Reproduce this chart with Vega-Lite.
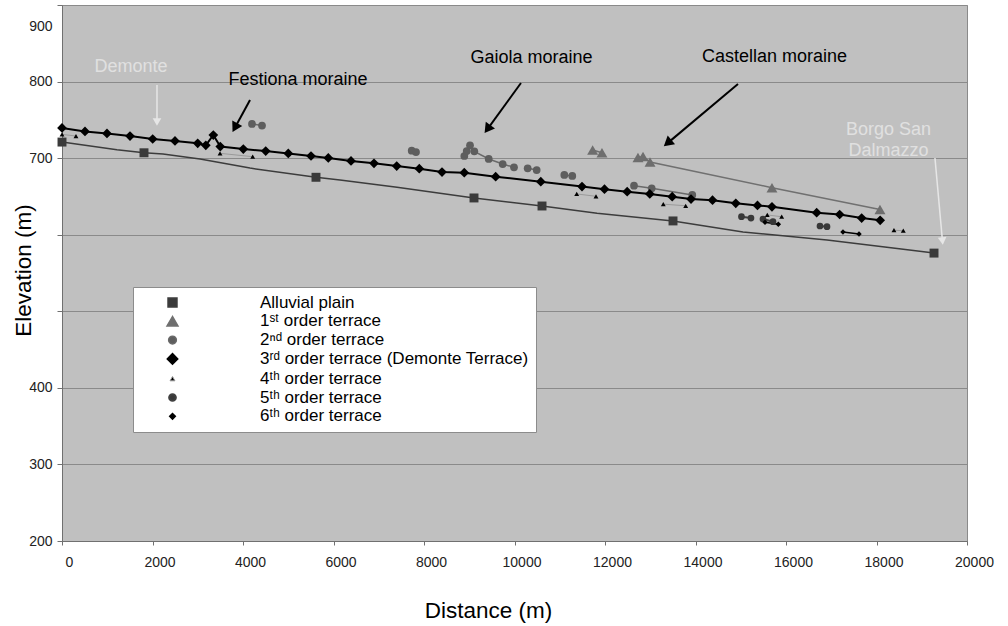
{
  "$schema": "https://vega.github.io/schema/vega-lite/v6.json",
  "width": 905,
  "height": 536,
  "autosize": "none",
  "padding": {"left": 62, "top": 5, "right": 41, "bottom": 85},
  "background": "#ffffff",
  "config": {
    "font": "Liberation Sans",
    "view": {"fill": "#c0c0c0", "stroke": "#8a8a8a", "strokeWidth": 1},
    "axis": {"labelFont": "Liberation Sans", "titleFont": "Liberation Sans", "labelColor": "#222222", "titleColor": "#000000", "titleFontWeight": "normal"}
  },
  "datasets": {
    "profile": [
      {"series": "Alluvial plain", "distance": 0, "elevation": 721},
      {"series": "Alluvial plain", "distance": 1215, "elevation": 711},
      {"series": "Alluvial plain", "distance": 1812, "elevation": 707},
      {"series": "Alluvial plain", "distance": 2232, "elevation": 705.5},
      {"series": "Alluvial plain", "distance": 3050, "elevation": 699},
      {"series": "Alluvial plain", "distance": 4155, "elevation": 687},
      {"series": "Alluvial plain", "distance": 5613, "elevation": 675},
      {"series": "Alluvial plain", "distance": 6144, "elevation": 671.5},
      {"series": "Alluvial plain", "distance": 7404, "elevation": 662},
      {"series": "Alluvial plain", "distance": 9105, "elevation": 648},
      {"series": "Alluvial plain", "distance": 10608, "elevation": 637.5},
      {"series": "Alluvial plain", "distance": 11824, "elevation": 628},
      {"series": "Alluvial plain", "distance": 13503, "elevation": 618},
      {"series": "Alluvial plain", "distance": 15050, "elevation": 603.5},
      {"series": "Alluvial plain", "distance": 16907, "elevation": 593},
      {"series": "Alluvial plain", "distance": 18365, "elevation": 582.5},
      {"series": "Alluvial plain", "distance": 19271, "elevation": 576}
    ],
    "terraces": [
      {"series": "Alluvial plain", "segment": "a", "distance": 0, "elevation": 721},
      {"series": "Alluvial plain", "segment": "a", "distance": 1812, "elevation": 707},
      {"series": "Alluvial plain", "segment": "a", "distance": 5613, "elevation": 675},
      {"series": "Alluvial plain", "segment": "a", "distance": 9105, "elevation": 648},
      {"series": "Alluvial plain", "segment": "a", "distance": 10608, "elevation": 637.5},
      {"series": "Alluvial plain", "segment": "a", "distance": 13503, "elevation": 618},
      {"series": "Alluvial plain", "segment": "a", "distance": 19271, "elevation": 576},

      {"series": "1ˢᵗ order terrace", "segment": "a", "distance": 11727, "elevation": 710.6},
      {"series": "1ˢᵗ order terrace", "segment": "a", "distance": 11933, "elevation": 707.1},
      {"series": "1ˢᵗ order terrace", "segment": "b", "distance": 12729, "elevation": 700.8},
      {"series": "1ˢᵗ order terrace", "segment": "b", "distance": 12840, "elevation": 702.1},
      {"series": "1ˢᵗ order terrace", "segment": "b", "distance": 12995, "elevation": 695},
      {"series": "1ˢᵗ order terrace", "segment": "b", "distance": 15690, "elevation": 661.4},
      {"series": "1ˢᵗ order terrace", "segment": "b", "distance": 18077, "elevation": 633},

      {"series": "2ⁿᵈ order terrace", "segment": "a", "distance": 4199, "elevation": 744.6},
      {"series": "2ⁿᵈ order terrace", "segment": "a", "distance": 4420, "elevation": 742.6},
      {"series": "2ⁿᵈ order terrace", "segment": "b", "distance": 7728, "elevation": 709.7},
      {"series": "2ⁿᵈ order terrace", "segment": "b", "distance": 7823, "elevation": 708},
      {"series": "2ⁿᵈ order terrace", "segment": "c", "distance": 8891, "elevation": 702.8},
      {"series": "2ⁿᵈ order terrace", "segment": "c", "distance": 8944, "elevation": 709.3},
      {"series": "2ⁿᵈ order terrace", "segment": "c", "distance": 9017, "elevation": 716.8},
      {"series": "2ⁿᵈ order terrace", "segment": "c", "distance": 9112, "elevation": 708.9},
      {"series": "2ⁿᵈ order terrace", "segment": "c", "distance": 9430, "elevation": 698.9},
      {"series": "2ⁿᵈ order terrace", "segment": "c", "distance": 9739, "elevation": 692.3},
      {"series": "2ⁿᵈ order terrace", "segment": "c", "distance": 9989, "elevation": 688},
      {"series": "2ⁿᵈ order terrace", "segment": "d", "distance": 10291, "elevation": 686.7},
      {"series": "2ⁿᵈ order terrace", "segment": "d", "distance": 10490, "elevation": 684.5},
      {"series": "2ⁿᵈ order terrace", "segment": "e", "distance": 11101, "elevation": 678},
      {"series": "2ⁿᵈ order terrace", "segment": "e", "distance": 11277, "elevation": 676.7},
      {"series": "2ⁿᵈ order terrace", "segment": "f", "distance": 12641, "elevation": 664},
      {"series": "2ⁿᵈ order terrace", "segment": "f", "distance": 13032, "elevation": 660.6},
      {"series": "2ⁿᵈ order terrace", "segment": "f", "distance": 13929, "elevation": 651.9},

      {"series": "3ʳᵈ order terrace (Demonte Terrace)", "segment": "a", "distance": 0, "elevation": 739.4},
      {"series": "3ʳᵈ order terrace (Demonte Terrace)", "segment": "a", "distance": 508, "elevation": 734.8},
      {"series": "3ʳᵈ order terrace (Demonte Terrace)", "segment": "a", "distance": 994, "elevation": 732.2},
      {"series": "3ʳᵈ order terrace (Demonte Terrace)", "segment": "a", "distance": 1503, "elevation": 728.9},
      {"series": "3ʳᵈ order terrace (Demonte Terrace)", "segment": "a", "distance": 2004, "elevation": 725},
      {"series": "3ʳᵈ order terrace (Demonte Terrace)", "segment": "a", "distance": 2497, "elevation": 722.4},
      {"series": "3ʳᵈ order terrace (Demonte Terrace)", "segment": "a", "distance": 2999, "elevation": 719.4},
      {"series": "3ʳᵈ order terrace (Demonte Terrace)", "segment": "a", "distance": 3178, "elevation": 716.8},
      {"series": "3ʳᵈ order terrace (Demonte Terrace)", "segment": "a", "distance": 3344, "elevation": 730.2},
      {"series": "3ʳᵈ order terrace (Demonte Terrace)", "segment": "a", "distance": 3498, "elevation": 715.2},
      {"series": "3ʳᵈ order terrace (Demonte Terrace)", "segment": "a", "distance": 4007, "elevation": 711.9},
      {"series": "3ʳᵈ order terrace (Demonte Terrace)", "segment": "a", "distance": 4502, "elevation": 709.3},
      {"series": "3ʳᵈ order terrace (Demonte Terrace)", "segment": "a", "distance": 5001, "elevation": 706.1},
      {"series": "3ʳᵈ order terrace (Demonte Terrace)", "segment": "a", "distance": 5503, "elevation": 702.8},
      {"series": "3ʳᵈ order terrace (Demonte Terrace)", "segment": "a", "distance": 5885, "elevation": 700.2},
      {"series": "3ʳᵈ order terrace (Demonte Terrace)", "segment": "a", "distance": 6387, "elevation": 696.3},
      {"series": "3ʳᵈ order terrace (Demonte Terrace)", "segment": "a", "distance": 6895, "elevation": 693.3},
      {"series": "3ʳᵈ order terrace (Demonte Terrace)", "segment": "a", "distance": 7397, "elevation": 689.7},
      {"series": "3ʳᵈ order terrace (Demonte Terrace)", "segment": "a", "distance": 7896, "elevation": 686.2},
      {"series": "3ʳᵈ order terrace (Demonte Terrace)", "segment": "a", "distance": 8398, "elevation": 681.9},
      {"series": "3ʳᵈ order terrace (Demonte Terrace)", "segment": "a", "distance": 8890, "elevation": 681},
      {"series": "3ʳᵈ order terrace (Demonte Terrace)", "segment": "a", "distance": 9584, "elevation": 675.8},
      {"series": "3ʳᵈ order terrace (Demonte Terrace)", "segment": "a", "distance": 10581, "elevation": 669.2},
      {"series": "3ʳᵈ order terrace (Demonte Terrace)", "segment": "a", "distance": 11492, "elevation": 662.9},
      {"series": "3ʳᵈ order terrace (Demonte Terrace)", "segment": "a", "distance": 11989, "elevation": 659.4},
      {"series": "3ʳᵈ order terrace (Demonte Terrace)", "segment": "a", "distance": 12490, "elevation": 656.2},
      {"series": "3ʳᵈ order terrace (Demonte Terrace)", "segment": "a", "distance": 12990, "elevation": 653.2},
      {"series": "3ʳᵈ order terrace (Demonte Terrace)", "segment": "a", "distance": 13485, "elevation": 649.6},
      {"series": "3ʳᵈ order terrace (Demonte Terrace)", "segment": "a", "distance": 13901, "elevation": 646.6},
      {"series": "3ʳᵈ order terrace (Demonte Terrace)", "segment": "a", "distance": 14376, "elevation": 645.1},
      {"series": "3ʳᵈ order terrace (Demonte Terrace)", "segment": "a", "distance": 14890, "elevation": 641},
      {"series": "3ʳᵈ order terrace (Demonte Terrace)", "segment": "a", "distance": 15370, "elevation": 638.2},
      {"series": "3ʳᵈ order terrace (Demonte Terrace)", "segment": "a", "distance": 15690, "elevation": 636.5},
      {"series": "3ʳᵈ order terrace (Demonte Terrace)", "segment": "a", "distance": 16678, "elevation": 628.8},
      {"series": "3ʳᵈ order terrace (Demonte Terrace)", "segment": "a", "distance": 17186, "elevation": 626.4},
      {"series": "3ʳᵈ order terrace (Demonte Terrace)", "segment": "a", "distance": 17672, "elevation": 621.8},
      {"series": "3ʳᵈ order terrace (Demonte Terrace)", "segment": "a", "distance": 18081, "elevation": 618.8},

      {"series": "4ᵗʰ order terrace", "segment": "a", "distance": 0, "elevation": 731},
      {"series": "4ᵗʰ order terrace", "segment": "a", "distance": 309, "elevation": 728.9},
      {"series": "4ᵗʰ order terrace", "segment": "b", "distance": 3492, "elevation": 706.3},
      {"series": "4ᵗʰ order terrace", "segment": "b", "distance": 4214, "elevation": 701.9},
      {"series": "4ᵗʰ order terrace", "segment": "c", "distance": 11375, "elevation": 653.2},
      {"series": "4ᵗʰ order terrace", "segment": "c", "distance": 11801, "elevation": 650.2},
      {"series": "4ᵗʰ order terrace", "segment": "d", "distance": 13288, "elevation": 639.9},
      {"series": "4ᵗʰ order terrace", "segment": "d", "distance": 13783, "elevation": 637.8},
      {"series": "4ᵗʰ order terrace", "segment": "e", "distance": 15586, "elevation": 625.8},
      {"series": "4ᵗʰ order terrace", "segment": "e", "distance": 15905, "elevation": 623.5},
      {"series": "4ᵗʰ order terrace", "segment": "f", "distance": 18386, "elevation": 605.9},
      {"series": "4ᵗʰ order terrace", "segment": "f", "distance": 18592, "elevation": 605.2},

      {"series": "5ᵗʰ order terrace", "segment": "a", "distance": 15016, "elevation": 623.5},
      {"series": "5ᵗʰ order terrace", "segment": "a", "distance": 15226, "elevation": 621.8},
      {"series": "5ᵗʰ order terrace", "segment": "b", "distance": 15491, "elevation": 620.5},
      {"series": "5ᵗʰ order terrace", "segment": "b", "distance": 15712, "elevation": 617},
      {"series": "5ᵗʰ order terrace", "segment": "c", "distance": 16751, "elevation": 611.4},
      {"series": "5ᵗʰ order terrace", "segment": "c", "distance": 16906, "elevation": 610.5},

      {"series": "6ᵗʰ order terrace", "segment": "a", "distance": 15536, "elevation": 616.2},
      {"series": "6ᵗʰ order terrace", "segment": "a", "distance": 15830, "elevation": 613.6},
      {"series": "6ᵗʰ order terrace", "segment": "b", "distance": 17259, "elevation": 603.5},
      {"series": "6ᵗʰ order terrace", "segment": "b", "distance": 17613, "elevation": 600.9}
    ],
    "notes": [
      {"label": "Demonte", "kind": "place", "distance": 1525, "elevation": 819},
      {"label": "Festiona moraine", "kind": "moraine", "distance": 5215, "elevation": 802},
      {"label": "Gaiola moraine", "kind": "moraine", "distance": 10376, "elevation": 831},
      {"label": "Castellan moraine", "kind": "moraine", "distance": 15746, "elevation": 832},
      {"label": "Borgo San\nDalmazzo", "kind": "place", "distance": 18265, "elevation": 737.4}
    ],
    "arrows": [
      {"label": "Demonte", "kind": "place", "start_distance": 2099, "start_elevation": 795.5, "distance": 2099, "elevation": 747.2},
      {"label": "Festiona moraine", "kind": "moraine", "start_distance": 4155, "start_elevation": 775.9, "distance": 3821, "elevation": 739.8},
      {"label": "Gaiola moraine", "kind": "moraine", "start_distance": 10143, "start_elevation": 798.1, "distance": 9403, "elevation": 737.9},
      {"label": "Castellan moraine", "kind": "moraine", "start_distance": 14939, "start_elevation": 796.8, "distance": 13383, "elevation": 719.6},
      {"label": "Borgo San Dalmazzo", "kind": "place", "start_distance": 19292, "start_elevation": 700.2, "distance": 19458, "elevation": 591.8}
    ]
  },
  "encoding": {
    "x": {
      "field": "distance", "type": "quantitative",
      "scale": {"domain": [0, 20000], "nice": false, "zero": false},
      "axis": {
        "title": "Distance (m)", "titleFontSize": 22.5, "titleX": 426, "titleY": 76, "titleAlign": "center", "titleBaseline": "alphabetic",
        "values": [0, 2000, 4000, 6000, 8000, 10000, 12000, 14000, 16000, 18000, 20000],
        "format": "d", "grid": false, "tickSize": 4, "tickColor": "#707070", "domainColor": "#707070",
        "labelFontSize": 14, "labelOffset": 7, "labelPadding": 10, "labelFlush": false, "labelOverlap": false
      }
    },
    "y": {
      "field": "elevation", "type": "quantitative",
      "scale": {"domain": [200, 900], "nice": false, "zero": false},
      "axis": {
        "title": "Elevation (m)", "titleFontSize": 22.5, "titleX": -32, "titleY": 265, "titleAngle": 270, "titleAlign": "center", "titleBaseline": "alphabetic",
        "values": [200, 300, 400, 500, 600, 700, 800, 900],
        "labelExpr": "datum.value === 500 || datum.value === 600 ? '' : datum.label",
        "labelOffset": {"condition": {"test": "datum.value === 900", "value": 21}, "value": 0},
        "grid": true, "gridColor": "#8a8a8a", "gridWidth": 1,
        "tickSize": 5, "tickColor": "#707070", "domainColor": "#707070",
        "labelFontSize": 14, "labelPadding": 5, "labelFlush": false, "labelOverlap": false
      }
    }
  },
  "layer": [
    {
      "data": {"name": "profile"},
      "mark": {"type": "line", "strokeWidth": 1.5},
      "encoding": {
        "stroke": {"field": "series", "type": "nominal",
          "scale": {"domain": ["Alluvial plain", "1ˢᵗ order terrace", "2ⁿᵈ order terrace", "3ʳᵈ order terrace (Demonte Terrace)", "4ᵗʰ order terrace", "5ᵗʰ order terrace", "6ᵗʰ order terrace"],
                    "range": ["#3c3c3c", "#707070", "#6a6a6a", "#000000", "#9a9a9a", "#404040", "#000000"]},
          "legend": {
            "orient": "none", "legendX": 71, "legendY": 282, "title": null,
            "padding": 7, "fillColor": "#ffffff", "strokeColor": "#8c8c8c",
            "rowPadding": 0.8, "symbolSize": 400, "symbolOffset": 24, "labelOffset": 79,
            "labelFont": "Liberation Sans, DejaVu Sans", "labelFontSize": 17, "labelColor": "#000000", "labelLimit": 600,
            "encode": {
              "symbols": {
                "update": {
                  "shape": {"value": {"expr": "['M-1.4,0H1.4M-0.38,-0.38H0.38V0.38H-0.38Z', 'M-1.4,0H1.4M0,-0.45L0.45,0.32H-0.45Z', 'M-1.4,0H1.4M-0.25,0A0.25,0.25,0,1,0,0.25,0A0.25,0.25,0,1,0,-0.25,0Z', 'M-1.4,0H1.4M0,-0.45L0.4,0L0,0.45L-0.4,0Z', 'M-1.4,0H1.4M0,-0.28L0.24,0.18H-0.24Z', 'M-1.4,0H1.4M-0.25,0A0.25,0.25,0,1,0,0.25,0A0.25,0.25,0,1,0,-0.25,0Z', 'M-1.4,0H1.4M0,-0.28L0.25,0L0,0.28L-0.25,0Z'][datum.index]"}},
                  "stroke": {"value": {"expr": "['#3c3c3c', '#707070', '#6a6a6a', '#000000', '#9a9a9a', '#404040', '#000000'][datum.index]"}},
                  "fill": {"value": {"expr": "['#3a3a3a', '#6e6e6e', '#5e5e5e', '#000000', '#000000', '#383838', '#000000'][datum.index]"}},
                  "strokeWidth": {"value": {"expr": "[1.5, 1.5, 1.5, 2, 1, 2, 1.6][datum.index]"}},
                  "size": {"value": 400},
                  "opacity": {"value": 1}
                }
              }
            }
          }
        }
      }
    },
    {
      "data": {"name": "terraces"},
      "transform": [{"filter": "datum.series !== 'Alluvial plain'"}],
      "mark": {"type": "line"},
      "encoding": {
        "detail": {"field": "segment", "type": "nominal"},
        "stroke": {"field": "series", "type": "nominal"},
        "strokeWidth": {"field": "series", "type": "nominal", "legend": null,
          "scale": {"type": "ordinal", "domain": ["Alluvial plain", "1ˢᵗ order terrace", "2ⁿᵈ order terrace", "3ʳᵈ order terrace (Demonte Terrace)", "4ᵗʰ order terrace", "5ᵗʰ order terrace", "6ᵗʰ order terrace"],
                    "range": [1.5, 1.5, 1.5, 2, 1, 2, 1.6]}}
      }
    },
    {
      "data": {"name": "terraces"},
      "mark": {"type": "point", "filled": true, "opacity": 1, "strokeWidth": 0},
      "encoding": {
        "fill": {"field": "series", "type": "nominal", "legend": null,
          "scale": {"domain": ["Alluvial plain", "1ˢᵗ order terrace", "2ⁿᵈ order terrace", "3ʳᵈ order terrace (Demonte Terrace)", "4ᵗʰ order terrace", "5ᵗʰ order terrace", "6ᵗʰ order terrace"],
                    "range": ["#3a3a3a", "#6e6e6e", "#5e5e5e", "#000000", "#000000", "#383838", "#000000"]}},
        "shape": {"field": "series", "type": "nominal", "legend": null,
          "scale": {"domain": ["Alluvial plain", "1ˢᵗ order terrace", "2ⁿᵈ order terrace", "3ʳᵈ order terrace (Demonte Terrace)", "4ᵗʰ order terrace", "5ᵗʰ order terrace", "6ᵗʰ order terrace"],
                    "range": ["square", "triangle-up", "circle", "diamond", "triangle-up", "circle", "diamond"]}},
        "size": {"field": "series", "type": "nominal", "legend": null,
          "scale": {"type": "ordinal", "domain": ["Alluvial plain", "1ˢᵗ order terrace", "2ⁿᵈ order terrace", "3ʳᵈ order terrace (Demonte Terrace)", "4ᵗʰ order terrace", "5ᵗʰ order terrace", "6ᵗʰ order terrace"],
                    "range": [80, 120, 60, 95, 24, 45, 30]}}
      }
    },
    {
      "data": {"name": "arrows"},
      "transform": [{"filter": "datum.kind === 'moraine'"}],
      "mark": {"type": "rule", "color": "#000000", "strokeWidth": 2},
      "encoding": {
        "x2": {"field": "start_distance"},
        "y2": {"field": "start_elevation"}
      }
    },
    {
      "data": {"name": "arrows"},
      "transform": [{"filter": "datum.kind === 'place'"}],
      "mark": {"type": "rule", "color": "#e6e6e6", "strokeWidth": 1.5},
      "encoding": {
        "x2": {"field": "start_distance"},
        "y2": {"field": "start_elevation"}
      }
    },
    {
      "data": {"name": "arrows"},
      "transform": [{"filter": "datum.kind === 'moraine'"}],
      "mark": {"type": "point", "shape": "triangle-up", "filled": true, "opacity": 1, "color": "#000000", "size": 130},
      "encoding": {
        "angle": {"field": "label", "type": "nominal", "legend": null,
          "scale": {"type": "ordinal", "domain": ["Demonte", "Festiona moraine", "Gaiola moraine", "Castellan moraine", "Borgo San Dalmazzo"], "range": [180, 208.6, 215.9, 229.9, 174.9]}}
      }
    },
    {
      "data": {"name": "arrows"},
      "transform": [{"filter": "datum.kind === 'place'"}],
      "mark": {"type": "point", "shape": "triangle-up", "filled": true, "opacity": 1, "color": "#e6e6e6", "size": 75},
      "encoding": {
        "angle": {"field": "label", "type": "nominal", "legend": null,
          "scale": {"type": "ordinal", "domain": ["Demonte", "Festiona moraine", "Gaiola moraine", "Castellan moraine", "Borgo San Dalmazzo"], "range": [180, 208.6, 215.9, 229.9, 174.9]}}
      }
    },
    {
      "data": {"name": "notes"},
      "transform": [{"filter": "datum.kind === 'moraine'"}],
      "mark": {"type": "text", "font": "Liberation Sans", "fontSize": 18, "align": "center", "baseline": "middle", "color": "#000000"},
      "encoding": {"text": {"field": "label"}}
    },
    {
      "data": {"name": "notes"},
      "transform": [{"filter": "datum.kind === 'place'"}],
      "mark": {"type": "text", "font": "Liberation Sans", "fontSize": 18, "align": "center", "baseline": "middle", "color": "#e0e0e0", "lineBreak": "\n", "lineHeight": 21},
      "encoding": {"text": {"field": "label"}}
    }
  ]
}
